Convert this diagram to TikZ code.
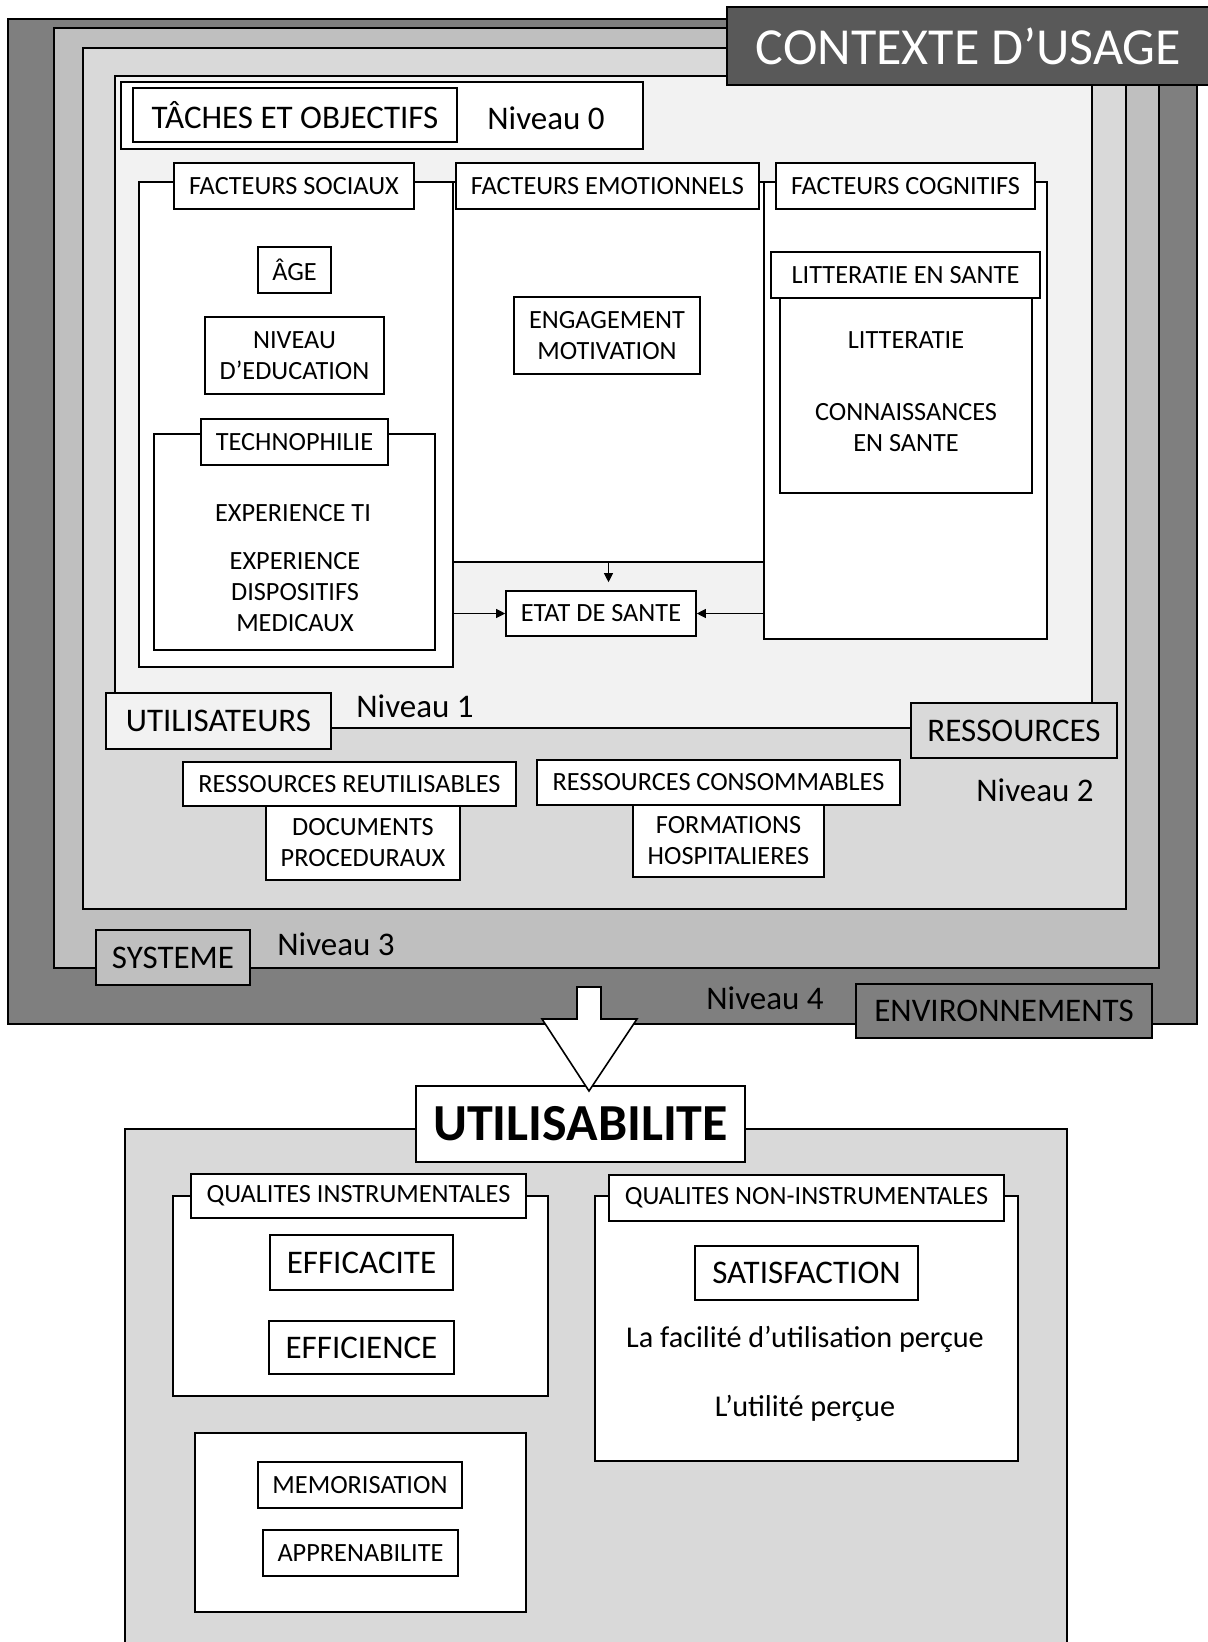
\documentclass[tikz,border=0pt]{standalone}
\usepackage{fontspec}
\setmainfont{Carlito}
\usetikzlibrary{arrows.meta}

\definecolor{lvlfour}{HTML}{7F7F7F}
\definecolor{lvlthree}{HTML}{BFBFBF}
\definecolor{lvltwo}{HTML}{D9D9D9}
\definecolor{lvlone}{HTML}{F2F2F2}
\definecolor{ctxgray}{HTML}{595959}

\newcommand{\fsmall}{\fontsize{26.3}{31}\selectfont}
\newcommand{\fmed}{\fontsize{33}{40}\selectfont}
\newcommand{\flow}{\fontsize{30.2}{36}\selectfont}
\newcommand{\fbig}{\fontsize{52}{60}\selectfont}

\tikzset{
	boite/.style = {draw, line width=1.6pt, fill=white, inner sep=0pt},
	etiq/.style = {boite, font=\fsmall, align=center},
	grand/.style = {boite, font=\fmed},
	mot/.style = {font=\fmed, inner sep=0pt},
	arr/.style = {-{Triangle[length=9pt, width=9pt]}, line width=1pt},
}

\begin{document}
\begin{tikzpicture}[x=1pt, y=-1pt]
	\useasboundingbox (0,0) rectangle (1208,1642);

	% contexte d'usage, niveaux 4 a 1
	\draw [line width=1.6pt, fill=lvlfour] (8,19) rectangle (1197,1024);
	\draw [line width=1.6pt, fill=lvlthree] (54,28) rectangle (1159,968);
	\draw [line width=1.6pt, fill=lvltwo] (83,48) rectangle (1126,909);
	\draw [line width=1.6pt, fill=lvlone] (115,76) rectangle (1092,728);
	\node [boite, fill=ctxgray, text=white, font=\fbig, minimum width=483pt, minimum height=78pt] (ctx) at (968.5,46) {CONTEXTE D’USAGE};

	% niveau 0
	\node [boite, minimum width=522pt, minimum height=67pt] (niv0) at (382,115.5) {};
	\node [grand, minimum width=324pt, minimum height=54pt] (taches) at (295,115) {TÂCHES ET OBJECTIFS};
	\node [mot] (n0) at (546,118) {Niveau 0};

	% facteurs
	\node [boite, minimum width=314pt, minimum height=485pt] (soc) at (296,424.5) {};
	\node [boite, minimum width=311pt, minimum height=380pt] (emo) at (608.5,372) {};
	\node [boite, minimum width=283pt, minimum height=457pt] (cog) at (905.5,410.5) {};
	\node [etiq, minimum width=240pt, minimum height=46pt] (fsoc) at (294,186) {FACTEURS SOCIAUX};
	\node [etiq, minimum width=303pt, minimum height=46pt] (femo) at (607.5,186) {FACTEURS EMOTIONNELS};
	\node [etiq, minimum width=259pt, minimum height=46pt] (fcog) at (905.5,186) {FACTEURS COGNITIFS};

	\node [etiq, minimum width=73pt, minimum height=46pt] (age) at (294.5,270) {ÂGE};
	\node [etiq, minimum width=179pt, minimum height=77pt] (educ) at (294.5,355.5) {NIVEAU\\D’EDUCATION};
	\node [boite, minimum width=281pt, minimum height=216pt] (techf) at (294.5,542) {};
	\node [etiq, minimum width=187pt, minimum height=46pt] (tech) at (294.5,442) {TECHNOPHILIE};
	\node [font=\fsmall, inner sep=0pt] (expti) at (293,513) {EXPERIENCE TI};
	\node [font=\fsmall, inner sep=0pt, align=center] (expdm) at (295,592) {EXPERIENCE\\DISPOSITIFS\\MEDICAUX};

	\node [etiq, minimum width=186pt, minimum height=77pt] (engag) at (607,335.5) {ENGAGEMENT\\MOTIVATION};
	\node [etiq, minimum width=190pt, minimum height=45pt] (etat) at (601,613.5) {ETAT DE SANTE};

	\node [boite, minimum width=252pt, minimum height=195pt] (litf) at (906,395.5) {};
	\node [etiq, minimum width=269pt, minimum height=46pt] (lit) at (905.5,275) {LITTERATIE EN SANTE};
	\node [font=\fsmall, inner sep=0pt] (litt) at (906,340) {LITTERATIE};
	\node [font=\fsmall, inner sep=0pt, align=center] (conn) at (906,428) {CONNAISSANCES\\EN SANTE};

	\draw [arr] (soc.east |- etat) -- (etat.west);
	\draw [arr] (cog.west |- etat) -- (etat.east);
	\draw [arr, shorten >=8pt] (emo.south) -- (emo.south |- etat.north);

	% niveaux 1 a 4
	\node [grand, fill=lvlone, minimum width=225pt, minimum height=56pt] (util) at (218.5,721) {UTILISATEURS};
	\node [mot] (n1) at (415,706) {Niveau 1};
	\node [grand, fill=lvltwo, minimum width=206pt, minimum height=55pt] (ress) at (1014,730.5) {RESSOURCES};
	\node [mot] (n2) at (1035,790) {Niveau 2};
	\node [etiq, minimum width=194pt, minimum height=74pt] (docs) at (363,843) {DOCUMENTS\\PROCEDURAUX};
	\node [etiq, minimum width=333pt, minimum height=44pt] (reut) at (349.5,784) {RESSOURCES REUTILISABLES};
	\node [etiq, minimum width=191pt, minimum height=72pt] (form) at (728.5,841) {FORMATIONS\\HOSPITALIERES};
	\node [etiq, minimum width=363pt, minimum height=45pt] (cons) at (718.5,782.5) {RESSOURCES CONSOMMABLES};
	\node [grand, fill=lvlthree, minimum width=154pt, minimum height=55pt] (syst) at (173,957.5) {SYSTEME};
	\node [mot] (n3) at (336,944) {Niveau 3};
	\node [mot] (n4) at (765,998) {Niveau 4};
	\node [grand, fill=lvlfour, minimum width=296pt, minimum height=54pt] (envi) at (1004,1011) {ENVIRONNEMENTS};

	% utilisabilite
	\draw [line width=1.6pt, fill=lvltwo] (125,1660) -- (125,1129) -- (1067,1129) -- (1067,1660);
	\node [boite, font=\fbig\bfseries, minimum width=329pt, minimum height=76pt] (utab) at (580.5,1124) {UTILISABILITE};
	\draw [line width=1.6pt, fill=white, line join=miter] (577,987) -- (601,987) -- (601,1019) -- (637,1019) -- (589,1091) -- (542,1019) -- (577,1019) -- cycle;

	\node [boite, minimum width=375pt, minimum height=200pt] (qif) at (360.5,1296) {};
	\node [etiq, minimum width=335pt, minimum height=44pt] (qi) at (358.5,1196) {QUALITES INSTRUMENTALES};
	\node [grand, minimum width=183pt, minimum height=55pt] (effa) at (361.5,1262.5) {EFFICACITE};
	\node [grand, minimum width=185pt, minimum height=53pt] (effi) at (361.5,1347.5) {EFFICIENCE};

	\node [boite, minimum width=331pt, minimum height=179pt] (memf) at (360.5,1522.5) {};
	\node [etiq, minimum width=204pt, minimum height=46pt] (memo) at (360,1485) {MEMORISATION};
	\node [etiq, minimum width=195pt, minimum height=46pt] (appr) at (360.5,1553) {APPRENABILITE};

	\node [boite, minimum width=423pt, minimum height=265pt] (qnf) at (806.5,1328.5) {};
	\node [etiq, minimum width=395pt, minimum height=46pt] (qn) at (806.5,1198) {QUALITES NON-INSTRUMENTALES};
	\node [grand, minimum width=223pt, minimum height=54pt] (satis) at (806.5,1273) {SATISFACTION};
	\node [font=\flow, inner sep=0pt] (faci) at (805,1339) {La facilité d’utilisation perçue};
	\node [font=\flow, inner sep=0pt] (utile) at (805,1408) {L’utilité perçue};
\end{tikzpicture}
\end{document}
